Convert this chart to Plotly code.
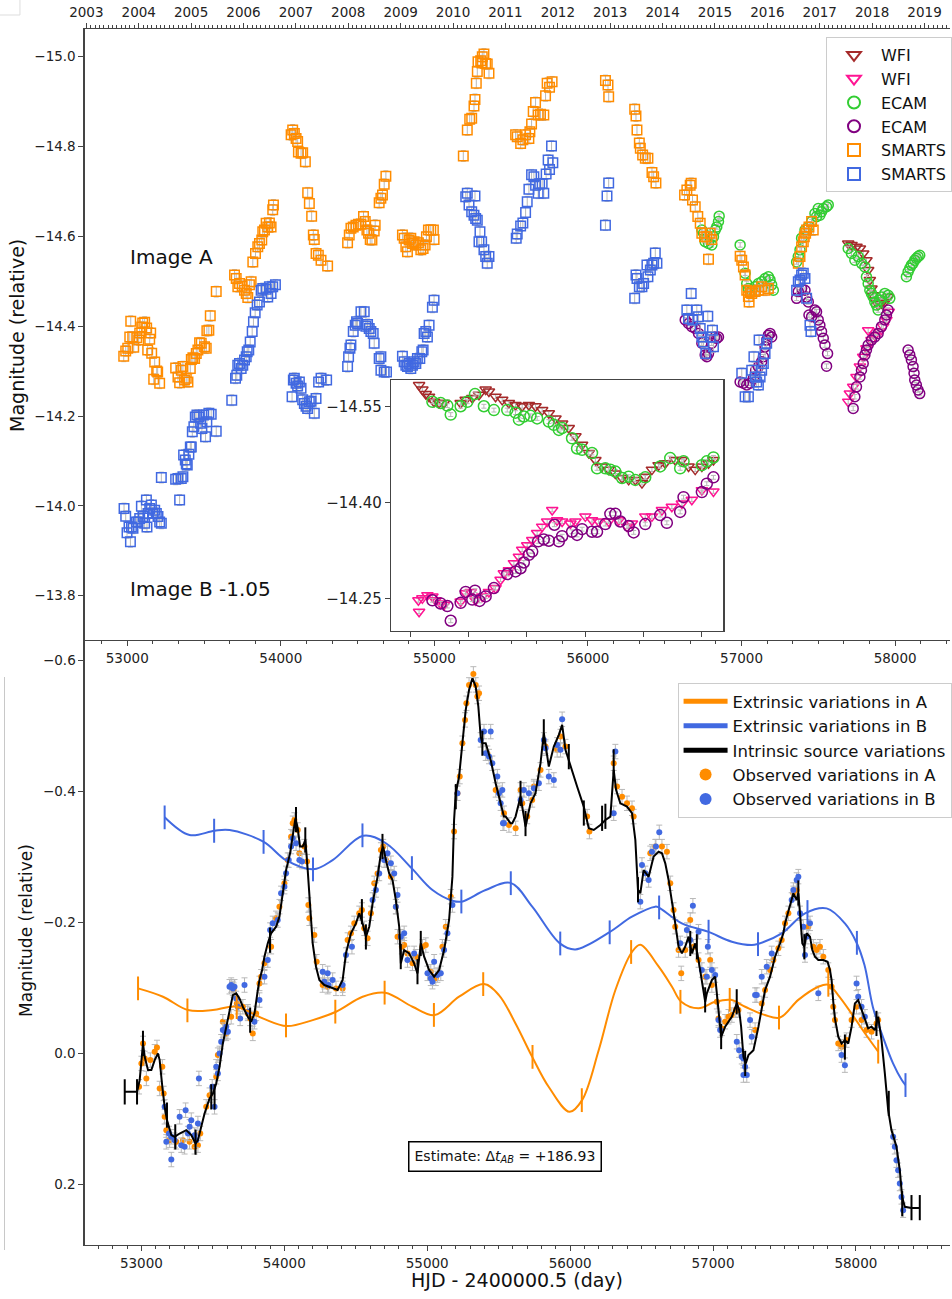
import plotly.graph_objects as go

# ---------------- TOP PANEL DATA (year, magnitude) ----------------
smarts_a_year = [
    2003.714, 2003.752, 2003.790, 2003.829, 2003.848, 2003.886, 2003.905, 2003.962, 2004.000, 2004.019, 2004.057, 2004.076,
    2004.114, 2004.152, 2004.171, 2004.210, 2004.229, 2004.248, 2004.305, 2004.343, 2004.286, 2004.362, 2004.400,
    2004.705, 2004.749, 2004.781, 2004.813, 2004.844, 2004.876, 2004.908, 2004.940, 2004.985, 2005.004, 2005.034, 2005.067,
    2005.099, 2005.130, 2005.162, 2005.194, 2005.257, 2005.301, 2005.339, 2005.366, 2005.289, 2005.480,
    2005.829, 2005.861, 2005.892, 2005.924, 2005.975, 2006.019, 2006.052, 2006.082, 2006.114, 2006.146, 2006.178, 2006.229,
    2006.273, 2006.305, 2006.349, 2006.368, 2006.400, 2006.432, 2006.463, 2006.495, 2006.527, 2006.558, 2006.572,
    2006.909, 2006.939, 2006.971, 2007.004, 2007.034, 2007.048, 2007.099, 2007.130, 2007.181, 2007.225, 2007.257, 2007.301,
    2007.333, 2007.352, 2007.385, 2007.429, 2007.480, 2007.606,
    2007.987, 2008.019, 2008.051, 2008.095, 2008.147, 2008.196, 2008.242, 2008.291, 2008.324, 2008.356, 2008.387, 2008.419,
    2008.452, 2008.495, 2008.514, 2008.590, 2008.623, 2008.653, 2008.686, 2008.718,
    2009.034, 2009.067, 2009.099, 2009.130, 2009.162, 2009.194, 2009.225, 2009.257, 2009.290, 2009.339, 2009.385, 2009.429,
    2009.467, 2009.492, 2009.530, 2009.575, 2009.625, 2009.638,
    2010.196, 2010.272, 2010.318, 2010.356, 2010.400, 2010.419, 2010.444, 2010.463, 2010.476, 2010.528, 2010.552, 2010.558,
    2010.590, 2010.623, 2010.653, 2010.686,
    2011.194, 2011.225, 2011.290, 2011.333, 2011.385, 2011.448, 2011.467, 2011.499, 2011.530, 2011.575, 2011.625, 2011.670,
    2011.733, 2011.766, 2011.796, 2011.842, 2011.891,
    2012.909, 2012.958, 2012.971,
    2013.467, 2013.492, 2013.511, 2013.556, 2013.575, 2013.619, 2013.670, 2013.720, 2013.797, 2013.829, 2013.873,
    2014.419, 2014.463, 2014.527, 2014.546, 2014.571, 2014.623, 2014.672, 2014.718, 2014.749, 2014.800, 2014.844, 2014.876,
    2014.908, 2014.939,
    2015.480, 2015.511, 2015.543, 2015.575, 2015.606, 2015.638, 2015.652, 2015.670, 2015.701, 2015.766, 2015.829, 2015.891,
    2015.956, 2016.019,
    2016.590, 2016.623, 2016.653, 2016.686, 2016.705, 2016.730, 2016.749, 2016.794, 2016.844, 2016.876,
]
smarts_a_mag = [
    -14.333, -14.345, -14.351, -14.376, -14.411, -14.376, -14.353, -14.374, -14.369, -14.385, -14.398, -14.407,
    -14.409, -14.396, -14.347, -14.371, -14.385, -14.340, -14.320, -14.300, -14.282, -14.298, -14.273,
    -14.307, -14.287, -14.274, -14.302, -14.310, -14.280, -14.284, -14.276, -14.306, -14.326, -14.330, -14.328,
    -14.339, -14.347, -14.363, -14.362, -14.354, -14.390, -14.391, -14.423, -14.351, -14.477,
    -14.514, -14.506, -14.488, -14.495, -14.489, -14.480, -14.473, -14.464, -14.492, -14.499, -14.543, -14.562,
    -14.577, -14.584, -14.592, -14.610, -14.614, -14.629, -14.621, -14.630, -14.621, -14.659, -14.670,
    -14.826, -14.837, -14.829, -14.818, -14.811, -14.788, -14.785, -14.786, -14.766, -14.697, -14.673, -14.645,
    -14.603, -14.593, -14.562, -14.558, -14.547, -14.534,
    -14.586, -14.603, -14.618, -14.621, -14.625, -14.627, -14.627, -14.644, -14.633, -14.614, -14.607, -14.593,
    -14.592, -14.612, -14.625, -14.675, -14.685, -14.692, -14.716, -14.734,
    -14.603, -14.596, -14.577, -14.566, -14.592, -14.596, -14.584, -14.588, -14.581, -14.586, -14.570, -14.573,
    -14.581, -14.599, -14.614, -14.614, -14.614, -14.593,
    -14.779, -14.837, -14.861, -14.863, -14.890, -14.905, -14.941, -14.967, -14.989, -14.991, -14.986, -15.000,
    -15.006, -14.985, -14.984, -14.963,
    -14.826, -14.822, -14.807, -14.815, -14.826, -14.818, -14.833, -14.850, -14.878, -14.898, -14.870, -14.872,
    -14.870, -14.913, -14.941, -14.932, -14.944,
    -14.947, -14.937, -14.911,
    -14.883, -14.868, -14.837, -14.808, -14.796, -14.781, -14.774, -14.774, -14.742, -14.733, -14.719,
    -14.692, -14.703, -14.714, -14.718, -14.681, -14.666, -14.644, -14.629, -14.607, -14.599, -14.599, -14.549,
    -14.607, -14.593,
    -14.556, -14.547, -14.532, -14.514, -14.480, -14.466, -14.454, -14.477, -14.473, -14.477, -14.480, -14.488,
    -14.480, -14.484,
    -14.540, -14.555, -14.577, -14.588, -14.599, -14.607, -14.614, -14.621, -14.633, -14.614,
]

smarts_b_year = [
    2003.720, 2003.752, 2003.777, 2003.815, 2003.842, 2003.861, 2003.891, 2003.956, 2003.987, 2004.019, 2004.051, 2004.082,
    2004.114, 2004.147, 2004.158, 2004.177, 2004.210, 2004.242, 2004.273, 2004.305, 2004.337, 2004.368, 2004.400, 2004.432,
    2004.432, 2004.705, 2004.749, 2004.781, 2004.813, 2004.844, 2004.857, 2004.889, 2004.908, 2004.927, 2004.958, 2004.985,
    2005.004, 2005.023, 2005.053, 2005.080, 2005.111, 2005.149, 2005.181, 2005.206, 2005.238, 2005.276, 2005.301, 2005.339,
    2005.384, 2005.480,
    2005.776, 2005.848, 2005.872, 2005.891, 2005.924, 2005.956, 2005.987, 2006.019, 2006.052, 2006.071, 2006.101, 2006.128,
    2006.166, 2006.190, 2006.223, 2006.261, 2006.305, 2006.337, 2006.368, 2006.432, 2006.463, 2006.495, 2006.527, 2006.558,
    2006.610,
    2006.927, 2006.952, 2006.971, 2007.004, 2007.034, 2007.067, 2007.099, 2007.130, 2007.162, 2007.194, 2007.225, 2007.257,
    2007.290, 2007.352, 2007.385, 2007.434, 2007.480, 2007.587,
    2007.987, 2008.006, 2008.032, 2008.051, 2008.095, 2008.133, 2008.158, 2008.178, 2008.242, 2008.305, 2008.337, 2008.368,
    2008.400, 2008.432, 2008.476, 2008.495, 2008.590, 2008.623, 2008.623, 2008.686, 2008.730,
    2009.034, 2009.067, 2009.099, 2009.130, 2009.162, 2009.194, 2009.225, 2009.257, 2009.290, 2009.320, 2009.366, 2009.404,
    2009.429, 2009.448, 2009.480, 2009.511, 2009.543, 2009.606, 2009.638,
    2010.242, 2010.272, 2010.305, 2010.356, 2010.400, 2010.419, 2010.432, 2010.463, 2010.495, 2010.514, 2010.546, 2010.590,
    2010.623, 2010.653, 2010.686,
    2011.206, 2011.225, 2011.290, 2011.333, 2011.385, 2011.416, 2011.448, 2011.499, 2011.543, 2011.575, 2011.625, 2011.652,
    2011.701, 2011.733, 2011.777, 2011.815, 2011.842, 2011.880, 2011.905,
    2012.909, 2012.939, 2012.971,
    2013.467, 2013.492, 2013.511, 2013.556, 2013.606, 2013.638, 2013.701, 2013.720, 2013.766, 2013.797, 2013.829, 2013.861,
    2013.892,
    2014.463, 2014.495, 2014.546, 2014.571, 2014.653, 2014.686, 2014.718, 2014.749, 2014.781, 2014.825, 2014.863, 2014.908,
    2014.952, 2014.971,
    2015.511, 2015.575, 2015.638, 2015.701, 2015.743, 2015.766, 2015.796, 2015.829, 2015.842, 2015.861, 2015.891, 2015.924,
    2015.956, 2015.987,
    2016.558, 2016.590, 2016.623, 2016.653, 2016.686, 2016.718, 2016.749, 2016.813, 2016.832,
]
smarts_b_mag = [
    -13.994, -13.977, -13.940, -13.953, -13.920, -13.953, -13.950, -13.964, -13.964, -13.972, -13.999, -13.976,
    -13.961, -14.013, -13.953, -13.983, -13.994, -14.002, -13.984, -13.990, -13.983, -13.976, -13.964, -13.961,
    -14.063, -14.059, -14.061, -14.013, -14.061, -14.065, -14.113, -14.102, -14.093, -14.091, -14.115, -14.131,
    -14.131, -14.165, -14.176, -14.198, -14.202, -14.198, -14.184, -14.172, -14.202, -14.154, -14.187, -14.206,
    -14.204, -14.166,
    -14.235, -14.284, -14.291, -14.313, -14.317, -14.306, -14.313, -14.325, -14.332, -14.343, -14.347, -14.365,
    -14.388, -14.410, -14.430, -14.447, -14.454, -14.480, -14.484, -14.482, -14.465, -14.488, -14.473, -14.488,
    -14.492,
    -14.243, -14.280, -14.284, -14.273, -14.267, -14.276, -14.262, -14.236, -14.228, -14.222, -14.217, -14.232,
    -14.233, -14.206, -14.239, -14.276, -14.284, -14.280,
    -14.310, -14.332, -14.351, -14.358, -14.388, -14.402, -14.410, -14.406, -14.432, -14.432, -14.400, -14.404,
    -14.395, -14.388, -14.384, -14.362, -14.328, -14.332, -14.302, -14.298, -14.298,
    -14.333, -14.321, -14.313, -14.310, -14.317, -14.306, -14.313, -14.321, -14.317, -14.328, -14.328, -14.343,
    -14.347, -14.384, -14.388, -14.376, -14.402, -14.442, -14.458,
    -14.688, -14.696, -14.670, -14.655, -14.647, -14.690, -14.640, -14.636, -14.588, -14.610, -14.588, -14.570,
    -14.555, -14.540, -14.555,
    -14.596, -14.605, -14.623, -14.630, -14.653, -14.677, -14.705, -14.737, -14.733, -14.714, -14.696, -14.717,
    -14.717, -14.696, -14.739, -14.770, -14.749, -14.801, -14.764,
    -14.625, -14.690, -14.719,
    -14.462, -14.514, -14.506, -14.488, -14.488, -14.495, -14.536, -14.510, -14.525, -14.536, -14.540, -14.563,
    -14.540,
    -14.436, -14.417, -14.473, -14.414, -14.436, -14.421, -14.395, -14.376, -14.365, -14.339, -14.422, -14.376,
    -14.391, -14.354,
    -14.295, -14.243, -14.243, -14.302, -14.332, -14.287, -14.276, -14.269, -14.369, -14.287, -14.302, -14.317,
    -14.339, -14.362,
    -14.480, -14.499, -14.503, -14.514, -14.518, -14.506, -14.462, -14.402, -14.388,
]

ecam_a_year = [
    2014.749, 2014.781, 2014.813, 2014.876, 2014.939, 2014.971, 2015.004, 2015.034, 2015.067, 2015.080,
    2015.480, 2015.575, 2015.606, 2015.638, 2015.701, 2015.766, 2015.829, 2015.891, 2015.956, 2016.019, 2016.051, 2016.082,
    2016.114,
    2016.558, 2016.590, 2016.623, 2016.653, 2016.718, 2016.781, 2016.844, 2016.908, 2016.939, 2016.971, 2017.002, 2017.034,
    2017.067, 2017.130, 2017.162,
    2017.543, 2017.606, 2017.670, 2017.733, 2017.796, 2017.861, 2017.891, 2017.924, 2017.956, 2017.987, 2018.019, 2018.051,
    2018.082, 2018.114, 2018.146, 2018.177, 2018.242, 2018.305, 2018.337,
    2018.654, 2018.686, 2018.718, 2018.749, 2018.781, 2018.813, 2018.844, 2018.876, 2018.908,
]
ecam_a_mag = [
    -14.614, -14.607, -14.588, -14.584, -14.581, -14.599, -14.614, -14.621, -14.633, -14.645,
    -14.581, -14.518, -14.495, -14.484, -14.480, -14.488, -14.495, -14.499, -14.506, -14.510, -14.503, -14.492,
    -14.480,
    -14.543, -14.555, -14.570, -14.596, -14.614, -14.621, -14.633, -14.651, -14.644, -14.662, -14.647, -14.655,
    -14.662, -14.666, -14.670,
    -14.573, -14.562, -14.547, -14.555, -14.540, -14.532, -14.510, -14.495, -14.480, -14.473, -14.465, -14.454,
    -14.447, -14.436, -14.458, -14.465, -14.473, -14.469, -14.462,
    -14.510, -14.521, -14.529, -14.536, -14.540, -14.547, -14.551, -14.555, -14.558,
]

ecam_b_year = [
    2014.432, 2014.495, 2014.558, 2014.623, 2014.686, 2014.749, 2014.813, 2014.844, 2014.876, 2014.939, 2014.998, 2015.034,
    2015.067,
    2015.480, 2015.543, 2015.606, 2015.670, 2015.733, 2015.777, 2015.829, 2015.891, 2015.924, 2015.956, 2015.987, 2016.019,
    2016.051, 2016.082,
    2016.558, 2016.590, 2016.653, 2016.718, 2016.749, 2016.781, 2016.794, 2016.844, 2016.908, 2016.939, 2016.971, 2017.002,
    2017.034, 2017.067, 2017.099, 2017.130, 2017.149,
    2017.638, 2017.670, 2017.701, 2017.766, 2017.796, 2017.829, 2017.861, 2017.891, 2017.924, 2017.987, 2018.051, 2018.114,
    2018.177, 2018.242, 2018.273, 2018.305,
    2018.686, 2018.718, 2018.749, 2018.781, 2018.800, 2018.813, 2018.844, 2018.876, 2018.908,
]
ecam_b_mag = [
    -14.414, -14.406, -14.399, -14.395, -14.384, -14.362, -14.336, -14.332, -14.339, -14.362, -14.376, -14.373,
    -14.376,
    -14.276, -14.273, -14.269, -14.273, -14.284, -14.302, -14.310, -14.321, -14.332, -14.354, -14.369, -14.380,
    -14.384, -14.376,
    -14.462, -14.477, -14.484, -14.480, -14.465, -14.454, -14.425, -14.421, -14.436, -14.432, -14.414, -14.402,
    -14.388, -14.373, -14.358, -14.311, -14.339,
    -14.217, -14.243, -14.265, -14.287, -14.302, -14.317, -14.336, -14.347, -14.358, -14.369, -14.376, -14.384,
    -14.399, -14.414, -14.425, -14.436,
    -14.347, -14.336, -14.325, -14.310, -14.295, -14.280, -14.269, -14.258, -14.250,
]

wfi_a_year = [2017.543, 2017.606, 2017.701, 2017.766, 2017.829, 2017.891, 2017.924, 2017.956, 2017.987, 2018.019,
              2018.051, 2018.114, 2018.177, 2018.242, 2018.305]
wfi_a_mag = [-14.584, -14.581, -14.577, -14.573, -14.562, -14.547, -14.525, -14.503, -14.484, -14.469,
             -14.458, -14.447, -14.451, -14.454, -14.465]
wfi_b_year = [2017.543, 2017.575, 2017.638, 2017.701, 2017.766, 2017.829, 2017.891, 2017.924, 2017.987, 2018.051,
              2018.146, 2018.210, 2018.273, 2018.318]
wfi_b_mag = [-14.232, -14.250, -14.265, -14.287, -14.310, -14.332, -14.351, -14.391, -14.369, -14.380,
             -14.388, -14.399, -14.414, -14.432]

# ---------------- INSET DATA (day, magnitude) ----------------
in_wfi_a_day = [57957.7, 57960.5, 57963.4, 57966.2, 57970.5, 57974.8, 57979.1, 57993.3, 57997.6, 58003.3, 58009.0,
                58014.7, 58017.5, 58023.2, 58028.9, 58034.6, 58040.3, 58046.0, 58051.7, 58057.4, 58063.1, 58068.8,
                58074.5, 58080.2, 58085.9, 58091.6, 58097.3, 58103.0, 58108.7, 58114.4, 58120.1, 58125.8, 58131.5,
                58137.2, 58142.9, 58148.6, 58151.4, 58157.1, 58162.8, 58168.5, 58177.1, 58182.8, 58188.5, 58194.2,
                58199.9, 58205.6, 58209.8]
in_wfi_a_mag = [-14.584, -14.577, -14.570, -14.566, -14.558, -14.556, -14.556, -14.556, -14.561, -14.564, -14.569,
                -14.577, -14.574, -14.566, -14.561, -14.556, -14.553, -14.551, -14.553, -14.551, -14.545, -14.540,
                -14.532, -14.524, -14.517, -14.504, -14.491, -14.478, -14.467, -14.457, -14.452, -14.446, -14.439,
                -14.436, -14.436, -14.431, -14.441, -14.452, -14.459, -14.462, -14.467, -14.467, -14.457, -14.452,
                -14.457, -14.462, -14.467]
in_ecam_a_day = [57969.1, 57976.2, 57981.9, 57984.8, 57993.3, 57999.0, 58005.6, 58013.2, 58021.8, 58033.2, 58040.3,
                 58043.2, 58047.4, 58053.1, 58058.8, 58068.8, 58073.1, 58077.4, 58080.2, 58088.7, 58093.0, 58097.3,
                 58105.8, 58110.1, 58117.2, 58121.5, 58125.8, 58131.5, 58137.2, 58142.9, 58151.4, 58164.2, 58172.8,
                 58181.3, 58184.2, 58199.9, 58204.1, 58209.8]
in_ecam_a_mag = [-14.558, -14.556, -14.552, -14.538, -14.551, -14.558, -14.570, -14.551, -14.545, -14.545, -14.541,
                 -14.530, -14.535, -14.536, -14.532, -14.527, -14.522, -14.514, -14.517, -14.501, -14.485, -14.483,
                 -14.478, -14.454, -14.454, -14.452, -14.449, -14.439, -14.441, -14.436, -14.440, -14.457, -14.470,
                 -14.454, -14.465, -14.459, -14.465, -14.471]
in_wfi_b_day = [57957.1, 57957.7, 57960.5, 57964.8, 57969.1, 57971.9, 57976.2, 57979.1, 57993.3, 57997.6, 58001.9,
                58006.1, 58011.8, 58017.5, 58023.2, 58027.5, 58030.3, 58034.6, 58038.9, 58043.2, 58046.0, 58050.3,
                58054.6, 58058.8, 58063.1, 58067.4, 58071.7, 58075.9, 58080.2, 58087.3, 58091.6, 58100.1, 58105.8,
                58111.5, 58120.1, 58128.6, 58135.8, 58140.0, 58151.4, 58157.1, 58165.7, 58174.2, 58182.8, 58191.3,
                58199.9, 58209.8]
in_wfi_b_mag = [-14.248, -14.230, -14.251, -14.256, -14.254, -14.248, -14.243, -14.241, -14.246, -14.259, -14.261,
                -14.248, -14.254, -14.261, -14.267, -14.280, -14.290, -14.295, -14.306, -14.316, -14.327, -14.334,
                -14.342, -14.353, -14.363, -14.371, -14.389, -14.373, -14.371, -14.368, -14.371, -14.379, -14.373,
                -14.371, -14.371, -14.373, -14.363, -14.368, -14.379, -14.379, -14.389, -14.394, -14.399, -14.405,
                -14.420, -14.418]
in_ecam_b_day = [57969.1, 57976.2, 57981.9, 57984.8, 57993.3, 57997.6, 58003.3, 58005.6, 58009.5, 58014.7, 58021.8,
                 58033.2, 58040.3, 58044.6, 58047.4, 58051.7, 58054.6, 58059.7, 58064.5, 58068.8, 58073.6, 58077.4,
                 58080.2, 58088.7, 58093.0, 58097.3, 58105.8, 58110.1, 58117.2, 58121.5, 58125.8, 58130.1, 58137.2,
                 58141.5, 58151.4, 58164.2, 58169.9, 58181.3, 58184.2, 58199.9, 58204.1, 58209.8]
in_ecam_b_mag = [-14.248, -14.243, -14.239, -14.216, -14.244, -14.261, -14.249, -14.263, -14.247, -14.254, -14.267,
                 -14.289, -14.293, -14.298, -14.307, -14.319, -14.324, -14.340, -14.343, -14.341, -14.366, -14.340,
                 -14.348, -14.355, -14.350, -14.359, -14.355, -14.355, -14.367, -14.383, -14.383, -14.371, -14.364,
                 -14.354, -14.367, -14.381, -14.369, -14.386, -14.409, -14.417, -14.430, -14.440]

# ---------------- BOTTOM PANEL DATA (HJD-2400000.5, magnitude) ----------------
ext_a_day = [52976.5, 53151, 53326, 53500, 53663, 53849, 54017, 54199, 54362, 54548, 54706, 54897, 55053, 55223,
             55398, 55502, 55618, 55735, 55851, 55996, 56084, 56200, 56317, 56433, 56491, 56619, 56713, 56778, 56899,
             57015, 57125, 57225, 57364, 57469, 57597, 57737, 57807, 57877, 57970, 58063, 58156]
ext_a_mag = [-0.0995, -0.0868, -0.0664, -0.0664, -0.0715, -0.0537, -0.042, -0.0511, -0.0639, -0.0868, -0.0929,
             -0.0715, -0.0588, -0.0868, -0.106, -0.0893, -0.046, 0.005, 0.051, 0.0888, 0.071, -0.005, -0.097, -0.155,
             -0.166, -0.133, -0.102, -0.079, -0.069, -0.079, -0.082, -0.0715, -0.0588, -0.055, -0.082, -0.102, -0.105,
             -0.089, -0.061, -0.031, -0.003]
ext_a_knot_day = [52976.5, 53322, 53667, 54012, 54357, 54702, 55047, 55392, 55737, 56082, 56427, 56772, 57117, 57462,
                  57807, 58156]
ext_a_knot_mag = [-0.0995, -0.066, -0.071, -0.043, -0.064, -0.093, -0.059, -0.106, 0.005, 0.071, -0.155, -0.079,
                  -0.082, -0.055, -0.105, -0.003]

ext_b_day = [53162.7, 53337, 53512, 53617, 53856, 54012, 54203, 54338, 54552, 54711, 54892, 55037, 55176, 55239,
             55409, 55584, 55735, 55928, 56037, 56270, 56433, 56596, 56619, 56782, 56964, 57132, 57271, 57313, 57481,
             57644, 57795, 57923, 58005, 58060, 58120, 58190, 58260, 58320, 58347]
ext_b_mag = [-0.3605, -0.3334, -0.340, -0.341, -0.3231, -0.2952, -0.2812, -0.2952, -0.3324, -0.3209, -0.2826,
             -0.2496, -0.2333, -0.2318, -0.2496, -0.2605, -0.2242, -0.1682, -0.1590, -0.1845, -0.2089, -0.2242,
             -0.2232, -0.1987, -0.186, -0.1707, -0.1656, -0.1672, -0.1835, -0.214, -0.2216, -0.1987, -0.1692, -0.135,
             -0.07, -0.025, 0.015, 0.040, 0.048]
ext_b_knot_day = [53162.7, 53509, 53855, 54201, 54547, 54893, 55239, 55585, 55931, 56277, 56623, 56969, 57315, 57661,
                  58007, 58347]
ext_b_knot_mag = [-0.3605, -0.340, -0.323, -0.281, -0.333, -0.283, -0.232, -0.260, -0.168, -0.185, -0.223, -0.186,
                  -0.167, -0.216, -0.169, 0.048]

intr_day = [52883.4, 52969.5, 52988, 53000, 53011.4, 53023, 53046.3, 53069.6, 53092.9, 53116, 53127.8, 53146.4,
            53162.7, 53179, 53193, 53209.3, 53232.6, 53267.5, 53314, 53349, 53379.3, 53395.5, 53418.8, 53442, 53477,
            53500.3, 53523.6, 53546.9, 53570, 53593.5, 53616.7, 53640, 53663.3, 53686.5, 53709.8, 53744.7, 53768,
            53791.3, 53814.6, 53826, 53844.8, 53861, 53884.4, 53907.7, 53942.6, 53966, 53989.2, 54012.5, 54040.4,
            54059, 54077.7, 54094, 54110.3, 54129, 54147.5, 54163.8, 54180, 54198.7, 54222, 54245.3, 54280.2,
            54338.4, 54373.3, 54408.2, 54431.5, 54466.4, 54501.3, 54524.6, 54548, 54571, 54594.5, 54617.8, 54652.7,
            54676, 54692.2, 54710.8, 54734, 54757.4, 54780.7, 54804, 54815.6, 54838.9, 54873.8, 54908.7, 54932,
            54955.3, 54978.6, 55013.5, 55048.5, 55083.4, 55118.3, 55153.2, 55176.5, 55188.1, 55199.8, 55223,
            55246.3, 55269.6, 55292.9, 55316.2, 55339.5, 55358, 55374.3, 55386, 55409.3, 55444.2, 55479.1, 55514,
            55537, 55549, 55583.5, 55595.5, 55618.4, 55653.3, 55688.2, 55723, 55758, 55793, 55816.3, 55851, 55886,
            55921, 55944.3, 55967.6, 56002.5, 56049, 56095.6, 56130.6, 56165.5, 56212, 56247, 56282, 56305.2,
            56321.5, 56351.7, 56398.3, 56433.2, 56456.5, 56475, 56491.4, 56514.7, 56549.6, 56584.5, 56619.4,
            56642.7, 56666, 56689.3, 56712.6, 56735.8, 56759, 56782.4, 56805.7, 56829, 56852.2, 56875.5, 56898.8,
            56922, 56945.4, 56957, 56992, 57015.2, 57027, 57050, 57057, 57085, 57131.6, 57166.5, 57182.8, 57196.8,
            57213, 57229.4, 57248, 57283, 57318, 57341, 57364.4, 57399.3, 57434.2, 57469, 57492.4, 57504, 57539,
            57562.3, 57585.6, 57597.2, 57608.8, 57625, 57639, 57655.4, 57678.7, 57695, 57713.6, 57737, 57772, 57802,
            57818.4, 57830, 57841.6, 57853.3, 57876.6, 57899.8, 57923, 57946.4, 57969.7, 57993, 58016.2, 58039.5,
            58062.8, 58086, 58109.4, 58132.6, 58156, 58179.2, 58202.5, 58225.8, 58249, 58284, 58307.2, 58323.5,
            58342.2, 58388.7, 58446.9]
intr_mag = [0.0583, 0.0583, 0.0405, 0.0099, -0.0155, 0.0048, 0.0252, 0.0252, 0.0099, -0.0003, 0.0099, 0.0506,
            0.0812, 0.1015, 0.1117, 0.1244, 0.127, 0.1219, 0.1168, 0.1244, 0.1371, 0.1321, 0.1117, 0.0913, 0.0684,
            0.0608, 0.0456, 0.0201, -0.0155, -0.0410, -0.0664, -0.0893, -0.0919, -0.0842, -0.0715, -0.0562, -0.0486,
            -0.0613, -0.0969, -0.112, -0.1275, -0.1478, -0.1682, -0.1835, -0.1936, -0.2089, -0.2445, -0.2799,
            -0.3056, -0.331, -0.359, -0.3438, -0.3158, -0.3158, -0.3260, -0.2799, -0.2190, -0.1682, -0.1326,
            -0.1122, -0.1046, -0.0995, -0.097, -0.1122, -0.1529, -0.1835, -0.1987, -0.2140, -0.1987, -0.1784,
            -0.1936, -0.2293, -0.2700, -0.3056, -0.3158, -0.2952, -0.2748, -0.2646, -0.2341, -0.1936, -0.1377,
            -0.1580, -0.1529, -0.1377, -0.1224, -0.1682, -0.1478, -0.1275, -0.1173, -0.1275, -0.1580, -0.2038,
            -0.2700, -0.3565, -0.3972, -0.4226, -0.4735, -0.5243, -0.5548, -0.5727, -0.5600, -0.5294, -0.4837,
            -0.4735, -0.4735, -0.4481, -0.4125, -0.3820, -0.3616, -0.3616, -0.3514, -0.3514, -0.3616, -0.3922,
            -0.3463, -0.3819, -0.3972, -0.4430, -0.4888, -0.4379, -0.4684, -0.4863, -0.5015, -0.4634, -0.4379,
            -0.4074, -0.3768, -0.3437, -0.3412, -0.3488, -0.3565, -0.3616, -0.4328, -0.4023, -0.3819, -0.3768,
            -0.3667, -0.3260, -0.2497, -0.2446, -0.2799, -0.2697, -0.3005, -0.3081, -0.3056, -0.2903, -0.2649,
            -0.2344, -0.1987, -0.1631, -0.1529, -0.1631, -0.1784, -0.1529, -0.1682, -0.1427, -0.1122, -0.0791,
            -0.0919, -0.1122, -0.1173, -0.0868, -0.0410, -0.0257, -0.0410, -0.0562, -0.0766, -0.0664, -0.0410,
            0.0048, 0.0150, 0.0023, -0.0053, -0.0410, -0.0715, -0.0969, -0.1173, -0.1478, -0.1682, -0.1835,
            -0.1987, -0.2242, -0.2445, -0.2343, -0.2445, -0.2140, -0.1682, -0.1631, -0.1835, -0.1784, -0.1580,
            -0.1478, -0.1427, -0.1427, -0.1402, -0.1275, -0.1122, -0.0791, -0.0537, -0.0257, -0.0155, -0.0206,
            -0.0155, -0.0410, -0.0766, -0.0817, -0.0664, -0.0511, -0.0384, -0.0410, -0.0359, -0.0562, -0.0206,
            0.0303, 0.0863, 0.1168, 0.1422, 0.1779, 0.2186, 0.2338, 0.2354, 0.2354]
intr_knot_day = [52883.4, 52969.5, 53011, 53179, 53237, 53379, 53489, 53512, 53761, 53900, 54082, 54147, 54543,
                 54571, 54687, 54815, 54932, 54955, 55200, 55386, 55653, 55688, 55816, 55991, 56096, 56224, 56247,
                 56305, 56475, 56841, 56887, 56945, 57057, 57166, 57225, 57597, 57639, 57923, 58144, 58230, 58324,
                 58389, 58447]
intr_knot_mag = [0.0583, 0.0583, -0.0155, 0.094, 0.127, 0.135, 0.066, 0.066, -0.051, -0.173, -0.357, -0.326,
                 -0.2165, -0.178, -0.316, -0.148, -0.125, -0.168, -0.392, -0.4735, -0.397, -0.351, -0.491, -0.453,
                 -0.367, -0.359, -0.362, -0.445, -0.25, -0.168, -0.163, -0.082, -0.026, -0.079, 0.015, -0.245,
                 -0.163, -0.010, -0.046, 0.076, 0.229, 0.235, 0.235]

obs_a_day = [52983.5, 53000, 53011.4, 53023, 53034.7, 53062.6, 53092.9, 53109, 53127.8, 53146.4, 53155.8, 53162.7,
             53174.4, 53197.6, 53244.2, 53290.7, 53337.3, 53372, 53395.5, 53412, 53453.7, 53477, 53523.6, 53535.2,
             53570, 53593.5, 53628.3, 53644.6, 53668, 53709.8, 53744.7, 53761, 53779.6, 53802.9, 53826.2, 53838,
             53861.2, 53907.7, 53942.6, 53966, 54000.8, 54024, 54047.4, 54059, 54070.7, 54094, 54105.6, 54140.5,
             54159.2, 54168.4, 54175.4, 54210.3, 54226.6, 54268.5, 54303.5, 54361.7, 54408.2, 54443.1, 54466.4,
             54489.7, 54524.6, 54543.2, 54559.5, 54582.8, 54606, 54629.5, 54652.7, 54676, 54692.2, 54710.8, 54745.8,
             54780.7, 54792.3, 54822.6, 54838.9, 54862.2, 54897, 54920.4, 54966.9, 54990.2, 55025.1, 55060, 55106.6,
             55129.9, 55164.8, 55188.1, 55211.4, 55227.7, 55246.3, 55264.9, 55274.3, 55292.9, 55323.1, 55339.5,
             55351, 55362.7, 55420.9, 55479.1, 55537.3, 55572.2, 55618.7, 55653.3, 55665, 55700, 55734.8, 55746.4,
             55793, 55828, 55909.4, 55932.7, 55967.6, 56119, 56135.2, 56305.2, 56328.4, 56363.4, 56398.3, 56433.2,
             56444.8, 56561.2, 56596, 56642.7, 56677.6, 56701, 56724, 56735.8, 56759, 56777.7, 56805.7, 56840.6,
             56863.9, 56898.8, 56945.4, 56980.3, 56992, 57027, 57038.5, 57062, 57085, 57108.3, 57131.6, 57159.5,
             57178, 57294.6, 57341, 57364.4, 57399.3, 57422.6, 57457.5, 57480.8, 57504, 57527.4, 57562.3, 57585.6,
             57667, 57702, 57725.2, 57748.6, 57772, 57806.7, 57830, 57841.6, 57853.3, 57876.6, 57899.8, 57934.8,
             57969.7, 58004.6, 58039.5, 58074.4, 58109.4, 58144.3, 58156]
obs_a_mag = [0.0506, 0.0150, -0.0155, 0.0074, 0.0379, 0.0099, -0.0028, -0.0094, 0.0532, 0.0201, 0.0608, 0.0964,
             0.1168, 0.1321, 0.1346, 0.1321, 0.1346, 0.1422, 0.1397, 0.1219, 0.0812, 0.0634, 0.0354, 0.0023,
             -0.0486, -0.0308, -0.0562, -0.0969, -0.0766, -0.0715, -0.0613, -0.0537, -0.0308, -0.0613, -0.1071,
             -0.1173, -0.1377, -0.1631, -0.2064, -0.2242, -0.2598, -0.2952, -0.3310, -0.3514, -0.3565, -0.3412,
             -0.3056, -0.3158, -0.2929, -0.2267, -0.2064, -0.1809, -0.1402, -0.1046, -0.1021, -0.0995, -0.0995,
             -0.1733, -0.1835, -0.1987, -0.2140, -0.2191, -0.1911, -0.1758, -0.2140, -0.2598, -0.2748, -0.3107,
             -0.3158, -0.2952, -0.2697, -0.2242, -0.1784, -0.1631, -0.1656, -0.1529, -0.1377, -0.1478, -0.1631,
             -0.1656, -0.1249, -0.1148, -0.1631, -0.1936, -0.2394, -0.3387, -0.3972, -0.4226, -0.4735, -0.5091,
             -0.5345, -0.5625, -0.5793, -0.5625, -0.5447, -0.5498, -0.4583, -0.4023, -0.3667, -0.3488, -0.3437,
             -0.4023, -0.3819, -0.3616, -0.3870, -0.4074, -0.4328, -0.4684, -0.4634, -0.4837, -0.4684, -0.3616,
             -0.3387, -0.4430, -0.4074, -0.3920, -0.3819, -0.3743, -0.3616, -0.3056, -0.3158, -0.3158, -0.3081,
             -0.2598, -0.2191, -0.1936, -0.1580, -0.1224, -0.1580, -0.2038, -0.1631, -0.1427, -0.1173, -0.1427,
             -0.1046, -0.0791, -0.0537, -0.0384, -0.0486, -0.0562, -0.0588, -0.0664, -0.0664, -0.0359, -0.0766,
             -0.0969, -0.1275, -0.1427, -0.1606, -0.1733, -0.1987, -0.2140, -0.2445, -0.2496, -0.1936, -0.1631,
             -0.1580, -0.1631, -0.1478, -0.1275, -0.1020, -0.0715, -0.0511, -0.0155, -0.0104, -0.0206, -0.0511,
             -0.0715, -0.0511, -0.0359, -0.0333, -0.0461, -0.0511]

obs_b_day = [53162.7, 53174.4, 53193, 53209.3, 53209.3, 53232.6, 53267.5, 53279.1, 53302.4, 53309.4, 53325.7,
             53337.3, 53349, 53372.3, 53384, 53395.5, 53402.5, 53495.6, 53511.9, 53523.6, 53535.2, 53546.9, 53558.5,
             53570.2, 53586.4, 53593.5, 53605, 53616.7, 53628.3, 53640, 53651.6, 53663.3, 53675, 53691.2, 53721.5,
             53744.7, 53791.3, 53826.2, 53861.2, 53884.4, 53900.7, 53919.3, 53954, 53977.5, 54000.8, 54012.5, 54031,
             54047.4, 54059, 54082.3, 54105.6, 54124.2, 54268.5, 54280.2, 54303.5, 54310.4, 54338.4, 54408.2,
             54431.5, 54473.4, 54617.8, 54641, 54664.3, 54699.2, 54722.5, 54745.8, 54769, 54780.7, 54792.3, 54815.6,
             54838.9, 54862.2, 54908.7, 55002, 55025, 55036.8, 55048.5, 55071.7, 55095, 55118.3, 55141.6, 55176.5,
             55211.4, 55374.3, 55397.6, 55409.3, 55432.6, 55444.2, 55455.9, 55490.8, 55502.4, 55514, 55525.7,
             55530.3, 55537, 55653.3, 55676.6, 55711.5, 55746.4, 55781.4, 55816.3, 55828, 55851.2, 55886, 55909.4,
             55932.7, 55944.3, 56305.2, 56316.8, 56491.4, 56503, 56526.3, 56549.6, 56573, 56600.8, 56624, 56770.8,
             56817.3, 56840.6, 56859.2, 56898.8, 56922, 56957, 56964, 56992, 57015.2, 57038.5, 57050, 57166.5,
             57182.8, 57201.4, 57213, 57224.7, 57213, 57236.4, 57259.6, 57271, 57294.6, 57306.2, 57341, 57376, 57411,
             57550.6, 57562.3, 57585.6, 57597.2, 57608.8, 57632, 57643.8, 57655.4, 57678.7, 57737, 57899.8, 57923,
             58004.6, 58016.2, 58039.5, 58062.8, 58260.7, 58272.3, 58284, 58295.6, 58307.2, 58319, 58330.5]
obs_b_mag = [0.0812, 0.1346, 0.1219, 0.1270, 0.1616, 0.1321, 0.0964, 0.1397, 0.1422, 0.0863, 0.1219, 0.1117,
             0.1015, 0.1244, 0.1321, 0.1066, 0.0379, 0.0506, 0.0812, 0.0201, 0.0303, -0.0003, -0.0181, -0.0359,
             -0.0333, -0.0410, -0.0333, -0.1020, -0.1046, -0.0995, -0.1020, -0.0842, -0.0715, -0.0537, -0.1046,
             -0.0639, -0.0486, -0.0817, -0.1173, -0.1427, -0.1885, -0.1987, -0.2038, -0.2445, -0.2547, -0.2750,
             -0.2952, -0.3158, -0.3285, -0.3209, -0.2952, -0.2929, -0.1249, -0.1097, -0.1224, -0.1046, -0.1122,
             -0.1046, -0.1504, -0.1631, -0.2344, -0.2496, -0.2748, -0.2952, -0.3056, -0.2904, -0.2748, -0.2242,
             -0.2420, -0.1784, -0.1835, -0.1427, -0.1529, -0.1224, -0.1148, -0.1097, -0.1402, -0.1198, -0.1224,
             -0.1580, -0.1835, -0.2267, -0.3972, -0.4786, -0.4913, -0.4583, -0.4532, -0.4913, -0.4430, -0.4226,
             -0.3972, -0.3820, -0.4023, -0.3514, -0.3514, -0.3870, -0.4023, -0.3972, -0.4048, -0.4125, -0.4786,
             -0.4659, -0.4226, -0.4175, -0.4710, -0.4634, -0.5101, -0.3667, -0.4608, -0.2318, -0.2878, -0.2750,
             -0.2649, -0.3081, -0.3158, -0.3376, -0.1682, -0.1885, -0.1733, -0.2256, -0.1860, -0.1275, -0.1173,
             -0.1631, -0.1275, -0.1198, -0.0511, -0.0359, -0.0181, -0.0053, 0.0048, 0.0074, 0.0201, 0.0328, 0.0328,
             -0.0511, -0.0257, -0.0893, -0.0893, -0.1173, -0.1326, -0.1529, -0.2344, -0.2496, -0.2649, -0.2700,
             -0.2140, -0.1936, -0.1504, -0.1784, -0.1987, -0.0919, 0.0023, 0.0176, -0.1071, -0.0868, -0.0715,
             -0.0562, 0.1270, 0.1422, 0.1626, 0.1779, 0.1982, 0.2186, 0.2389]

# ---------------- STYLE ----------------
FONT = "DejaVu Sans"
C_BROWN = "#a52a2a"
C_PINK = "#ff1493"
C_GREEN = "#32cd32"
C_PURPLE = "#800080"
C_ORANGE = "#ff8c00"
C_BLUE = "#4169e1"
ERRC = "#b8b8b8"
AXC = "#444444"
W, H = 952, 1299


def px_x(p):
    return p / W


def px_y(p):
    return 1 - p / H


fig = go.Figure()


def top_series(xs, ys, color, symbol, name, size, err, xaxis="x", yaxis="y", showlegend=True):
    fig.add_trace(go.Scatter(
        x=xs, y=ys, mode="markers", name=name, xaxis=xaxis, yaxis=yaxis,
        showlegend=showlegend, legend="legend",
        marker=dict(symbol=symbol, size=size, color=color, line=dict(width=1.5, color=color)),
        error_y=dict(type="constant", value=err, color=ERRC, thickness=1, width=2.5),
        hoverinfo="skip",
    ))


# Top panel main
top_series(wfi_a_year, wfi_a_mag, C_BROWN, "triangle-down-open", "WFI", 10, 0.005)
top_series(wfi_b_year, wfi_b_mag, C_PINK, "triangle-down-open", "WFI", 10, 0.005)
top_series(ecam_a_year, ecam_a_mag, C_GREEN, "circle-open", "ECAM", 10, 0.005)
top_series(ecam_b_year, ecam_b_mag, C_PURPLE, "circle-open", "ECAM", 10, 0.005)
top_series(smarts_a_year, smarts_a_mag, C_ORANGE, "square-open", "SMARTS", 9.5, 0.012)
top_series(smarts_b_year, smarts_b_mag, C_BLUE, "square-open", "SMARTS", 9.5, 0.012)

# invisible trace so the second (HJD) axis of the top panel is drawn
fig.add_trace(go.Scatter(x=[52500], y=[-16], xaxis="x2", yaxis="y", mode="markers",
                         showlegend=False, hoverinfo="skip", marker=dict(opacity=0)))

# Inset
top_series(in_wfi_a_day, in_wfi_a_mag, C_BROWN, "triangle-down-open", "WFI", 10, 0.003, "x4", "y4", False)
top_series(in_ecam_a_day, in_ecam_a_mag, C_GREEN, "circle-open", "ECAM", 11, 0.003, "x4", "y4", False)
top_series(in_wfi_b_day, in_wfi_b_mag, C_PINK, "triangle-down-open", "WFI", 10, 0.003, "x4", "y4", False)
top_series(in_ecam_b_day, in_ecam_b_mag, C_PURPLE, "circle-open", "ECAM", 11, 0.003, "x4", "y4", False)

# Bottom panel
fig.add_trace(go.Scatter(
    x=obs_a_day, y=obs_a_mag, mode="markers", name="Observed variations in A", xaxis="x3", yaxis="y3",
    legend="legend2", legendrank=4,
    marker=dict(size=6, color=C_ORANGE),
    error_y=dict(type="constant", value=0.011, color=ERRC, thickness=1, width=3), hoverinfo="skip"))
fig.add_trace(go.Scatter(
    x=obs_b_day, y=obs_b_mag, mode="markers", name="Observed variations in B", xaxis="x3", yaxis="y3",
    legend="legend2", legendrank=5,
    marker=dict(size=6, color=C_BLUE),
    error_y=dict(type="constant", value=0.011, color=ERRC, thickness=1, width=3), hoverinfo="skip"))

fig.add_trace(go.Scatter(
    x=ext_a_day, y=ext_a_mag, mode="lines", name="Extrinsic variations in A", xaxis="x3", yaxis="y3",
    legend="legend2", legendrank=1, line=dict(color=C_ORANGE, width=2, shape="spline", smoothing=1.0),
    hoverinfo="skip"))
fig.add_trace(go.Scatter(
    x=ext_a_knot_day, y=ext_a_knot_mag, mode="markers", showlegend=False, xaxis="x3", yaxis="y3",
    marker=dict(symbol="line-ns", size=17, line=dict(width=2, color=C_ORANGE)), hoverinfo="skip"))
fig.add_trace(go.Scatter(
    x=ext_b_day, y=ext_b_mag, mode="lines", name="Extrinsic variations in B", xaxis="x3", yaxis="y3",
    legend="legend2", legendrank=2, line=dict(color=C_BLUE, width=2, shape="spline", smoothing=1.0),
    hoverinfo="skip"))
fig.add_trace(go.Scatter(
    x=ext_b_knot_day, y=ext_b_knot_mag, mode="markers", showlegend=False, xaxis="x3", yaxis="y3",
    marker=dict(symbol="line-ns", size=17, line=dict(width=2, color=C_BLUE)), hoverinfo="skip"))
fig.add_trace(go.Scatter(
    x=intr_day, y=intr_mag, mode="lines", name="Intrinsic source variations", xaxis="x3", yaxis="y3",
    legend="legend2", legendrank=3, line=dict(color="black", width=2), hoverinfo="skip"))
fig.add_trace(go.Scatter(
    x=intr_knot_day, y=intr_knot_mag, mode="markers", showlegend=False, xaxis="x3", yaxis="y3",
    marker=dict(symbol="line-ns", size=18, line=dict(width=2, color="black")), hoverinfo="skip"))

# ---------------- AXES ----------------
top_dom_y = [px_y(640), px_y(29)]
bot_dom_y = [px_y(1245), px_y(640)]
main_dom_x = [px_x(85), 1.0]
tickfont = dict(family=FONT, size=13.5, color="#222")

axis_common = dict(showline=True, linecolor=AXC, linewidth=1.4, ticks="outside", ticklen=5, tickwidth=1,
                   tickcolor=AXC, showgrid=False, zeroline=False, automargin=False, tickfont=tickfont)
inset_y_common = dict(axis_common)
inset_y_common["tickfont"] = dict(family=FONT, size=15, color="#222")

fig.update_layout(
    xaxis=dict(domain=main_dom_x, anchor="y", side="top", range=[2002.9714, 2019.486], dtick=1, tick0=2003,
               tickformat="d",
               minor=dict(ticks="outside", ticklen=2.5, dtick=1 / 12, tick0=2003, tickcolor=AXC, showgrid=False),
               **axis_common),
    xaxis2=dict(overlaying="x", anchor="y", side="bottom", range=[52723.8, 58357.4], dtick=1000, tick0=53000,
                tickformat="d",
                minor=dict(ticks="outside", ticklen=2.5, dtick=1000 / 6, tick0=53000, tickcolor=AXC,
                           showgrid=False),
                **axis_common),
    yaxis=dict(domain=top_dom_y, anchor="x", range=[-13.7013, -15.0617], dtick=0.2, tick0=-15.0,
               tickformat=".1f", **axis_common),
    xaxis3=dict(domain=main_dom_x, anchor="y3", range=[52604.1, 58658.5], dtick=1000, tick0=53000,
                tickformat="d",
                minor=dict(ticks="outside", ticklen=2.5, dtick=100, tick0=53000, tickcolor=AXC, showgrid=False),
                **axis_common),
    yaxis3=dict(domain=bot_dom_y, anchor="x3", range=[0.292, -0.631], dtick=0.2, tick0=-0.6,
                tickformat=".1f", **axis_common),
    xaxis4=dict(domain=[px_x(392), px_x(725)], anchor="y4", range=[57933.8, 58218.4], dtick=50, tick0=57950,
                showticklabels=False, mirror=True, **axis_common),
    yaxis4=dict(domain=[px_y(631), px_y(380)], anchor="x4", range=[-14.200, -14.592],
                tickvals=[-14.55, -14.40, -14.25], tickformat=".2f", mirror=True, **inset_y_common),
)

# ---------------- LEGENDS ----------------
fig.update_layout(
    legend=dict(x=px_x(828), y=px_y(37), xanchor="left", yanchor="top", bgcolor="rgba(255,255,255,0.9)",
                bordercolor="#cccccc", borderwidth=1, font=dict(family=FONT, size=16, color="#111"),
                tracegroupgap=0, itemsizing="constant", itemwidth=44),
    legend2=dict(x=px_x(679), y=px_y(683), xanchor="left", yanchor="top", bgcolor="rgba(255,255,255,0.9)",
                 bordercolor="#cccccc", borderwidth=1, font=dict(family=FONT, size=16.5, color="#111"),
                 tracegroupgap=0, itemsizing="constant", itemwidth=44),
)

# ---------------- TEXT ----------------
annots = [
    dict(text="Image A", x=px_x(128), y=px_y(257), xanchor="left", yanchor="middle", font=dict(size=20)),
    dict(text="Image B -1.05", x=px_x(128), y=px_y(589), xanchor="left", yanchor="middle", font=dict(size=20)),
    dict(text="Magnitude (relative)", x=px_x(17), y=px_y(335), xanchor="center", yanchor="middle",
         textangle=-90, font=dict(size=19)),
    dict(text="Magnitude (relative)", x=px_x(26), y=px_y(930), xanchor="center", yanchor="middle",
         textangle=-90, font=dict(size=17)),
    dict(text="HJD - 2400000.5 (day)", x=px_x(518), y=px_y(1280), xanchor="center", yanchor="middle",
         font=dict(size=19)),
    dict(text="Estimate: Δ<i>t</i><sub><i>AB</i></sub> = +186.93", x=px_x(506), y=px_y(1156.5),
         xanchor="center", yanchor="middle", font=dict(size=14), bordercolor="black", borderwidth=1.5,
         borderpad=5, bgcolor="white"),
]
for a in annots:
    a.update(xref="paper", yref="paper", showarrow=False)
    a["font"].update(family=FONT, color="#111")
fig.update_layout(annotations=annots)

fig.update_layout(shapes=[
    dict(type="line", xref="paper", yref="paper", x0=px_x(4.5), x1=px_x(4.5), y0=px_y(677), y1=px_y(1250),
         line=dict(color="#c8c8c8", width=1)),
    dict(type="line", xref="paper", yref="paper", x0=0, x1=px_x(20), y0=px_y(15), y1=px_y(15),
         line=dict(color="#dddddd", width=1)),
    dict(type="line", xref="paper", yref="paper", x0=px_x(20), x1=px_x(20), y0=px_y(15), y1=1,
         line=dict(color="#dddddd", width=1)),
])

fig.update_layout(
    width=W, height=H, margin=dict(l=0, r=0, t=0, b=0),
    paper_bgcolor="white", plot_bgcolor="white",
    font=dict(family=FONT, color="#222"),
)

fig.write_html("out.html", config={"displayModeBar": False, "staticPlot": True},
               post_script="document.body.style.margin='0px';document.body.style.padding='0px';")
